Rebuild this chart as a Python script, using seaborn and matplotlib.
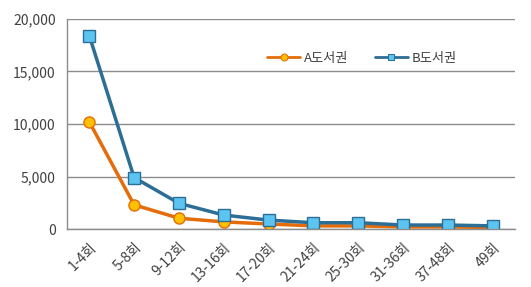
import numpy as np
import pandas as pd
import matplotlib
matplotlib.use("Agg")
import matplotlib.pyplot as plt
import seaborn as sns
from matplotlib.ticker import FuncFormatter, MultipleLocator

rounds = ['1-4회', '5-8회', '9-12회', '13-16회', '17-20회',
          '21-24회', '25-30회', '31-36회', '37-48회', '49회']
a_values = [10200, 2300, 1030, 680, 480, 300, 300, 200, 200, 150]
b_values = [18400, 4900, 2450, 1330, 850, 600, 600, 380, 380, 300]
series_names = ['A도서권', 'B도서권']

df = pd.DataFrame({
    'round': rounds * 2,
    'value': a_values + b_values,
    'series': [series_names[0]] * len(rounds) + [series_names[1]] * len(rounds),
})

sns.set_style("white")
plt.rcParams['font.family'] = ['Noto Sans CJK KR', 'DejaVu Sans']

fig = plt.figure(figsize=(5.31, 2.87), dpi=100)
ax = fig.add_axes([0.126, 0.202, 0.844, 0.732])

line_colors = ['#E46C0A', '#2C6E96']
fills = ['#FFC000', '#5BC4F0']

sns.lineplot(data=df, x='round', y='value', hue='series', style='series',
             palette=line_colors, markers=['o', 's'], dashes=False,
             linewidth=2.5, markersize=8, ax=ax)

for line, fc, ec in zip(ax.lines[:2], fills, line_colors):
    line.set_markerfacecolor(fc)
    line.set_markeredgecolor(ec)
    line.set_markeredgewidth(1)

ax.set_ylim(0, 20000)
ax.set_xlim(-0.5, len(rounds) - 0.5)
ax.yaxis.set_major_locator(MultipleLocator(5000))
ax.yaxis.set_major_formatter(FuncFormatter(lambda v, p: f'{int(v):,}'))
ax.grid(axis='y', color='#8c8c8c', linewidth=1)
ax.set_axisbelow(True)

ax.set_xticks(range(len(rounds)))
ax.set_xticklabels(rounds, rotation=45, ha='right', rotation_mode='anchor')
ax.set_xticks(np.arange(-0.5, len(rounds)), minor=True)
ax.tick_params(axis='x', which='major', length=0, pad=8, labelsize=10, colors='#404040')
ax.tick_params(axis='x', which='minor', length=4, color='#8c8c8c', width=1)
ax.tick_params(axis='y', length=0, labelsize=10, colors='#404040', pad=8)

for side in ['top', 'right']:
    ax.spines[side].set_visible(False)
for side in ['left', 'bottom']:
    ax.spines[side].set_color('#8c8c8c')
    ax.spines[side].set_linewidth(1)

ax.set_xlabel('')
ax.set_ylabel('')

handles, labels = ax.get_legend_handles_labels()
for h, fc, ec in zip(handles, fills, line_colors):
    h.set_linewidth(2)
    h.set_markersize(5)
    h.set_markerfacecolor(fc)
    h.set_markeredgecolor(ec)
ax.legend(handles, labels, loc='upper left', bbox_to_anchor=(0.42, 0.9),
          ncol=2, frameon=False, fontsize=9.5, handlelength=2.5,
          columnspacing=2.0, handletextpad=0.3, labelcolor='#404040')

fig.savefig('out.png', dpi=100)
